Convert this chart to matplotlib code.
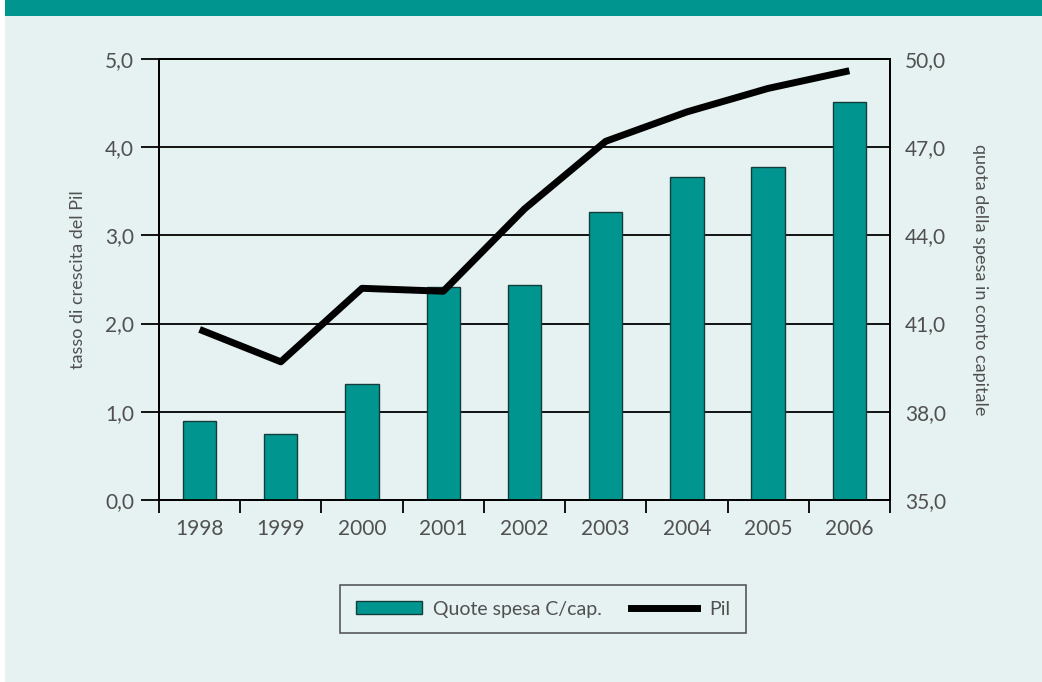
import matplotlib.pyplot as plt
from matplotlib.patches import Rectangle
from matplotlib.lines import Line2D
from matplotlib.ticker import FuncFormatter, FixedLocator

# data
anni = ['1998', '1999', '2000', '2001', '2002', '2003', '2004', '2005', '2006']
quote_spesa = [0.90, 0.75, 1.31, 2.42, 2.44, 3.27, 3.66, 3.78, 4.51]
pil = [40.8, 39.7, 42.2, 42.1, 44.9, 47.2, 48.2, 49.0, 49.6]

bg = '#e6f2f1'
teal = '#00968f'
txt = '#505050'

plt.rcParams['font.family'] = ['Lato', 'DejaVu Sans']

fig = plt.figure(figsize=(10.42, 6.82), dpi=100)
fig.patch.set_facecolor('white')
fig.patches.append(Rectangle((5/1042, 0), 1, 1, transform=fig.transFigure,
                             facecolor=bg, edgecolor='none', zorder=-10))
fig.patches.append(Rectangle((5/1042, 1 - 16/682), 1, 16/682, transform=fig.transFigure,
                             facecolor=teal, edgecolor='none', zorder=-9))

ax = fig.add_axes([0.1526, 0.2669, 0.7015, 0.6466])
ax.set_facecolor('none')
x = range(len(anni))
ax.bar(x, quote_spesa, width=0.41, color=teal, edgecolor='#143c3a', linewidth=1.0, zorder=3)
ax.set_xlim(-0.5, 8.5)
ax.set_ylim(0, 5)
ax.set_yticks([0, 1, 2, 3, 4, 5])
fmt = FuncFormatter(lambda v, p: ('%.1f' % v).replace('.', ','))
ax.yaxis.set_major_formatter(fmt)
for yv in [1, 2, 3, 4]:
    ax.axhline(yv, color='black', lw=1.3, zorder=1)

ax.xaxis.set_major_locator(FixedLocator([i - 0.5 for i in range(10)]))
ax.xaxis.set_minor_locator(FixedLocator(list(x)))
ax.set_xticklabels([])
ax.set_xticklabels(anni, minor=True)
ax.tick_params(axis='x', which='major', length=9, width=1.3, color='black', direction='out')
ax.tick_params(axis='x', which='minor', length=0, pad=14, labelsize=15, labelcolor=txt)
ax.tick_params(axis='y', length=13, width=1.3, color='black', pad=5, labelsize=15, labelcolor=txt)
for s in ax.spines.values():
    s.set_linewidth(1.3)
    s.set_color('black')

ax2 = ax.twinx()
ax2.plot(x, pil, color='black', lw=5, solid_capstyle='butt', zorder=5)
ax2.set_ylim(35, 50)
ax2.set_yticks([35, 38, 41, 44, 47, 50])
ax2.yaxis.set_major_formatter(fmt)
ax2.tick_params(axis='y', length=0, pad=11, labelsize=15, labelcolor=txt)
for s in ax2.spines.values():
    s.set_linewidth(1.3)

ax.set_ylabel('tasso di crescita del Pil', fontsize=13, color=txt, labelpad=14)
ax2.set_ylabel('quota della spesa in conto capitale', fontsize=13, color=txt,
               rotation=-90, labelpad=30)

handles = [Rectangle((0, 0), 1, 1, facecolor=teal, edgecolor='#143c3a', lw=1),
           Line2D([0], [0], color='black', lw=5)]
leg = fig.legend(handles, ['Quote spesa C/cap.', 'Pil'], loc='center',
                 bbox_to_anchor=(0.521, 0.107), ncol=2, frameon=True, fancybox=False,
                 fontsize=14, handlelength=3.4, handleheight=0.6, handletextpad=0.6,
                 columnspacing=1.5, borderpad=0.8, labelcolor=txt)
leg.get_frame().set_edgecolor('#333333')
leg.get_frame().set_facecolor(bg)
leg.get_frame().set_linewidth(1.2)

fig.savefig('out.png', dpi=100, facecolor=fig.get_facecolor())
